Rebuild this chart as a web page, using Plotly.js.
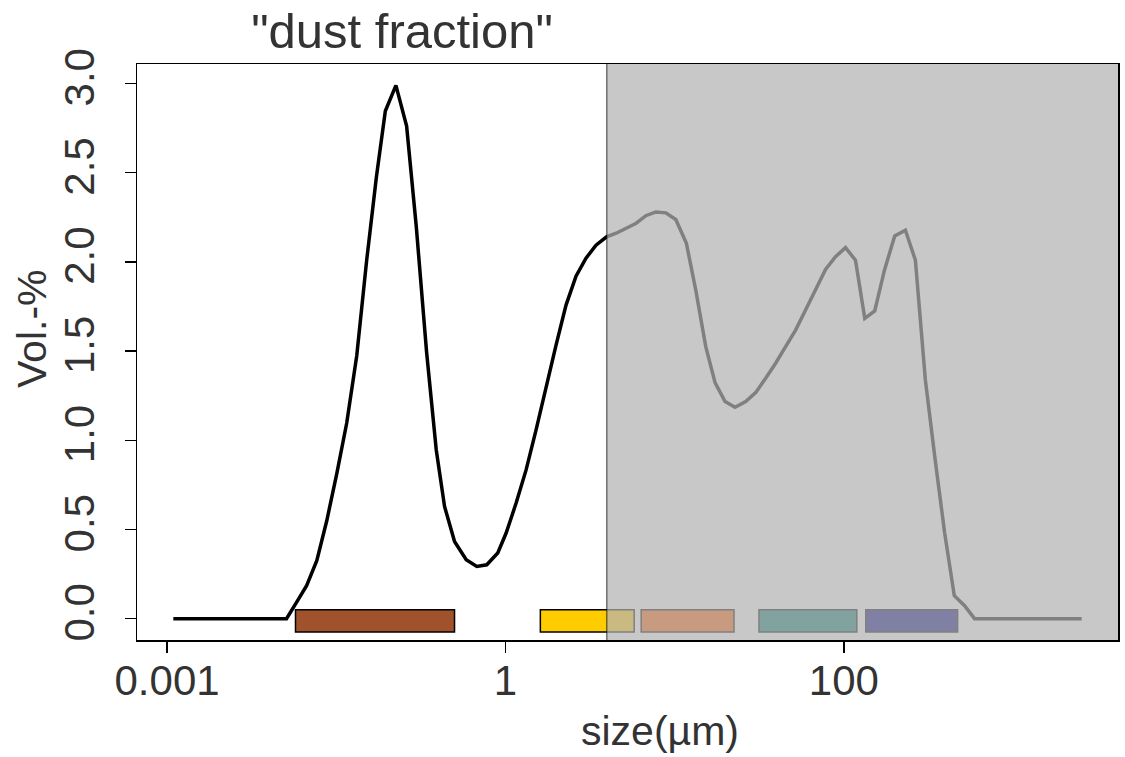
<!DOCTYPE html>
<html>
<head>
<meta charset="utf-8">
<script src="https://cdn.plot.ly/plotly-3.0.1.min.js"></script>
<style>
  html, body { margin: 0; padding: 0; background: #ffffff; }
  #chart { width: 1125px; height: 757px; }
</style>
</head>
<body>
<div id="chart"></div>
<script>
// Grain-size distribution: position along the size axis and volume percent per channel
const pos = [
  0.0186, 0.3531, 0.3826, 0.4124, 0.4425, 0.4720, 0.5015, 0.5310, 0.5605, 0.5900,
  0.6186, 0.6451, 0.6764, 0.7080, 0.7366, 0.7670, 0.7956, 0.8201, 0.8496, 0.8841,
  0.9153, 0.9448, 0.9773, 1.0021, 1.0316, 1.0611, 1.0906, 1.1201, 1.1496, 1.1791,
  1.2086, 1.2381, 1.2676, 1.2988, 1.3274, 1.3569, 1.3864, 1.4150, 1.4445, 1.4740,
  1.5035, 1.5348, 1.5625, 1.5920, 1.6195, 1.6490, 1.6785, 1.7100, 1.7395, 1.7690,
  1.7985, 1.8280, 1.8575, 1.8870, 1.9165, 1.9460, 1.9755, 2.0050, 2.0345, 2.0619,
  2.0914, 2.1201, 2.1504, 2.1820, 2.2115, 2.2410, 2.2693, 2.2979, 2.3265, 2.3569,
  2.3864, 2.7029
];
const vol = [
  0.000, 0.000, 0.091, 0.185, 0.325, 0.549, 0.812, 1.097, 1.473, 2.010,
  2.475, 2.846, 2.990, 2.762, 2.197, 1.495, 0.946, 0.629, 0.433, 0.330,
  0.293, 0.302, 0.368, 0.480, 0.648, 0.834, 1.058, 1.301, 1.534, 1.758,
  1.920, 2.021, 2.094, 2.141, 2.161, 2.189, 2.217, 2.259, 2.280, 2.275,
  2.238, 2.104, 1.842, 1.525, 1.323, 1.217, 1.185, 1.217, 1.267, 1.348,
  1.432, 1.525, 1.618, 1.730, 1.842, 1.958, 2.029, 2.080, 2.010, 1.684,
  1.725, 1.954, 2.146, 2.178, 2.010, 1.338, 0.901, 0.482, 0.129, 0.073,
  0.000, 0.000
];

// x axis labels (µm)
const xTickPos = [0, 1, 2];
const xTickText = ['0.001', '1', '100'];

// y axis labels (Vol.-%)
const yTickVals = [0, 0.5, 1, 1.5, 2, 2.5, 3];
const yTickText = ['0.0', '0.5', '1.0', '1.5', '2.0', '2.5', '3.0'];

// Size classes drawn as a band under the curve
const classFrom = [0.3796, 1.1032, 1.4012, 1.7493, 2.0649];
const classTo   = [0.8496, 1.3805, 1.6755, 2.0384, 2.3363];
const classFill = ['#A0522D', '#FFCC00', '#FF6000', '#007C71', '#000083'];
const classLow = -0.075, classHigh = 0.05;

// Everything coarser than this is outside the dust fraction
const dustLimit = 1.2994;

// Axis extents: data range widened by 4 % on each side
const xSpan = pos[pos.length - 1] - pos[0];
const xRange = [pos[0] - 0.04 * xSpan, pos[pos.length - 1] + 0.04 * xSpan];
const yMax = Math.max(...vol);
const yRange = [-0.04 * yMax, yMax * 1.04];

const textColor = '#333333';
const fontFam = '"Liberation Sans", Arial, Helvetica, sans-serif';

const shapes = classFrom.map((x0, i) => ({
  type: 'rect', xref: 'x', yref: 'y', layer: 'above',
  x0: x0, x1: classTo[i], y0: classLow, y1: classHigh,
  fillcolor: classFill[i],
  line: { color: '#000000', width: 1.5 }
}));

// Shaded coarse region
shapes.push({
  type: 'rect', xref: 'x', yref: 'paper', layer: 'above',
  x0: dustLimit, x1: xRange[1], y0: 0, y1: 1,
  fillcolor: 'rgba(178,178,178,0.718)',
  line: { width: 0 }
});
shapes.push({
  type: 'line', xref: 'x', yref: 'paper', layer: 'above',
  x0: dustLimit, x1: dustLimit, y0: 0, y1: 1,
  line: { color: 'rgba(0,0,0,0.5)', width: 1.5 }
});

const trace = {
  x: pos, y: vol,
  type: 'scatter', mode: 'lines',
  line: { color: '#000000', width: 3.5 },
  hoverinfo: 'x+y'
};

const layout = {
  width: 1125, height: 757,
  margin: { l: 137, r: 7, t: 64, b: 117 },
  paper_bgcolor: '#ffffff', plot_bgcolor: '#ffffff',
  showlegend: false,
  font: { family: fontFam, color: textColor },
  title: {
    text: '"dust fraction"',
    font: { size: 49, color: textColor, family: fontFam },
    x: 402 / 1125, xref: 'container', xanchor: 'center',
    y: 1 - 31 / 757, yref: 'container', yanchor: 'middle'
  },
  xaxis: {
    range: xRange, showgrid: false, zeroline: false,
    showline: true, mirror: true, linecolor: '#000000', linewidth: 1.5,
    ticks: 'outside', ticklen: 11, tickwidth: 1.5, tickcolor: '#000000',
    tickmode: 'array', tickvals: xTickPos, ticktext: xTickText,
    tickfont: { size: 42, color: textColor },
    ticklabelstandoff: -8
  },
  yaxis: {
    range: yRange, showgrid: false, zeroline: false,
    showline: true, mirror: true, linecolor: '#000000', linewidth: 1.5,
    ticks: 'outside', ticklen: 11, tickwidth: 1.5, tickcolor: '#000000',
    tickmode: 'array', tickvals: yTickVals, ticktext: yTickText,
    tickangle: -90,
    tickfont: { size: 42, color: textColor },
    ticklabelstandoff: 14
  },
  annotations: [
    {
      text: 'size(µm)', xref: 'paper', yref: 'paper',
      x: (660 - 137) / 981, y: -(731 - 640) / 576,
      xanchor: 'center', yanchor: 'middle', showarrow: false,
      font: { size: 41, color: textColor }
    },
    {
      text: 'Vol.-%', xref: 'paper', yref: 'paper',
      x: -(137 - 32) / 981, y: (640 - 329) / 576,
      xanchor: 'center', yanchor: 'middle', showarrow: false, textangle: -90,
      font: { size: 41, color: textColor }
    }
  ],
  shapes: shapes
};

Plotly.newPlot('chart', [trace], layout, { displayModeBar: false, staticPlot: true });
</script>
</body>
</html>
